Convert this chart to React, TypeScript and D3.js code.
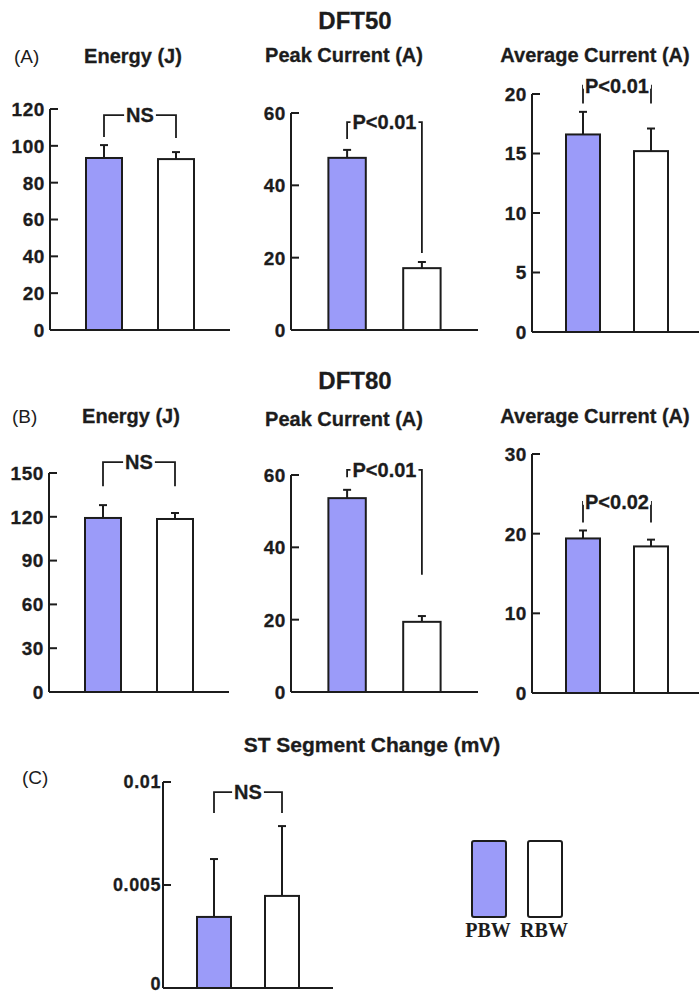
import React from "react";
import * as d3 from "d3";

// ---------- data ----------
const groups = ["PBW", "RBW"];
const groupColors = ["#9b9bf9", "#ffffff"];

// DFT50
const energy50 = [93.4, 92.8];
const energy50Err = [7.0, 3.8];
const peak50 = [47.6, 17.1];
const peak50Err = [2.2, 1.7];
const avg50 = [16.6, 15.2];
const avg50Err = [1.9, 1.9];

// DFT80
const energy80 = [119.2, 118.5];
const energy80Err = [8.8, 4.1];
const peak80 = [53.6, 19.4];
const peak80Err = [2.3, 1.6];
const avg80 = [19.4, 18.4];
const avg80Err = [1.0, 0.85];

// ST segment
const stChange = [0.00345, 0.00447];
const stChangeErr = [0.00281, 0.00339];

// y ticks
const ticksEnergy50 = [0, 20, 40, 60, 80, 100, 120];
const ticksPeak = [0, 20, 40, 60];
const ticksAvg50 = [0, 5, 10, 15, 20];
const ticksEnergy80 = [0, 30, 60, 90, 120, 150];
const ticksAvg80 = [0, 10, 20, 30];
const ticksST = [0, 0.005, 0.01];
const ticksSTLabels = ["0", "0.005", "0.01"];

// significance annotations: [label, bracket level, left leg end, right leg end]
const sigEnergy50: [string, number, number, number] = ["NS", 116.7, 104.8, 104.3];
const sigPeak50: [string, number, number, number] = ["P<0.01", 57.5, 52.8, 21.3];
const sigAvg50: [string, number, number, number] = ["P<0.01", 20.7, 19.2, 19.2];
const sigEnergy80: [string, number, number, number] = ["NS", 157.5, 141, 141];
const sigPeak80: [string, number, number, number] = ["P<0.01", 61.4, 59.4, 32.4];
const sigAvg80: [string, number, number, number] = ["P<0.02", 24.0, 21.4, 21.4];
const sigST: [string, number, number, number] = ["NS", 0.00951, 0.0085, 0.0085];

const INK = "#1c1c1c";
const SANS = "'Liberation Sans', Arial, Helvetica, sans-serif";
const SERIF = "'Liberation Serif', 'Times New Roman', serif";

// approximate Arial-bold advance widths (em) for masking bracket behind labels
const charW: Record<string, number> = { N: 0.722, S: 0.667, P: 0.667, "<": 0.584, ".": 0.278 };
const textWidth = (s: string, size: number) =>
  s.split("").reduce((a, c) => a + (charW[c] ?? 0.556), 0) * size;

type PanelProps = {
  x0: number;
  width: number;
  yBottom: number;
  yTop: number;
  ticks: number[];
  tickLabels?: string[];
  tickSize?: number;
  values: number[];
  errors: number[];
  sig: [string, number, number, number];
};

function Panel({ x0, width, yBottom, yTop, ticks, tickLabels, tickSize = 19, values, errors, sig }: PanelProps) {
  const maxT = ticks[ticks.length - 1];
  const y = d3.scaleLinear().domain([0, maxT]).range([yBottom, yTop]);
  const x = d3
    .scaleBand<string>()
    .domain(groups)
    .range([x0, x0 + width])
    .paddingInner(0.5)
    .paddingOuter(0.5);
  const bw = x.bandwidth();
  const cx = (g: string) => (x(g) as number) + bw / 2;
  const [label, level, leftEnd, rightEnd] = sig;
  const lx = cx(groups[0]);
  const rx = cx(groups[1]);
  const path = d3.path();
  path.moveTo(lx, y(leftEnd));
  path.lineTo(lx, y(level));
  path.lineTo(rx, y(level));
  path.lineTo(rx, y(rightEnd));
  const sigSize = 20;
  const mw = textWidth(label, sigSize) + 4;
  return (
    <g>
      {/* bars */}
      {groups.map((g, i) => (
        <g key={g}>
          <line
            x1={cx(g)}
            x2={cx(g)}
            y1={y(values[i])}
            y2={y(values[i] + errors[i])}
            stroke={INK}
            strokeWidth={2}
          />
          <line
            x1={cx(g) - 4}
            x2={cx(g) + 4}
            y1={y(values[i] + errors[i])}
            y2={y(values[i] + errors[i])}
            stroke={INK}
            strokeWidth={2}
          />
          <rect
            x={x(g)}
            y={y(values[i])}
            width={bw}
            height={y(0) - y(values[i])}
            fill={groupColors[i]}
            stroke={INK}
            strokeWidth={2}
          />
        </g>
      ))}
      {/* axes */}
      <line x1={x0} x2={x0} y1={y(0)} y2={y(maxT)} stroke={INK} strokeWidth={2} />
      <line x1={x0} x2={x0 + width} y1={y(0)} y2={y(0)} stroke={INK} strokeWidth={2} />
      {ticks.map((t, i) => (
        <g key={t}>
          <line x1={x0} x2={x0 + 8} y1={y(t)} y2={y(t)} stroke={INK} strokeWidth={2} />
          <text
            x={x0 - (tickLabels ? 2 : 5)}
            y={Math.min(y(t), 984)}
            dy="0.36em"
            textAnchor="end"
            fontFamily={SANS}
            fontWeight="bold"
            fontSize={tickSize}
            letterSpacing={0.6}
            fill={INK}
            stroke={INK}
            strokeWidth={0.3}
          >
            {tickLabels ? tickLabels[i] : d3.format("d")(t)}
          </text>
        </g>
      ))}
      {/* significance bracket */}
      <path d={path.toString()} fill="none" stroke={INK} strokeWidth={1.8} />
      <rect
        x={(lx + rx) / 2 - mw / 2}
        y={y(level) - 3}
        width={mw}
        height={6}
        fill="#fff"
      />
      <text
        x={(lx + rx) / 2}
        y={y(level)}
        dy="0.36em"
        textAnchor="middle"
        fontFamily={SANS}
        fontWeight="bold"
        fontSize={sigSize}
        fill={INK}
        stroke={INK}
        strokeWidth={0.3}
      >
        {label}
      </text>
    </g>
  );
}

function Title({ x, y, text, size = 20, anchor = "middle", bold = true }: any) {
  return (
    <text
      x={x}
      y={y}
      textAnchor={anchor}
      fontFamily={SANS}
      fontWeight={bold ? "bold" : "normal"}
      fontSize={size}
      fill={INK}
      stroke={bold ? INK : "none"}
      strokeWidth={0.3}
    >
      {text}
    </text>
  );
}

export default function App() {
  return (
    <svg
      width={699}
      height={993}
      style={{ position: "absolute", left: 0, top: 0, background: "#fff" }}
    >
      <rect width={699} height={993} fill="#fff" />
      {/* Section A */}
      <Title x={355} y={29} text="DFT50" size={24} />
      <Title x={14} y={63} text="(A)" size={19} anchor="start" bold={false} />
      <Title x={133} y={63} text="Energy (J)" />
      <Title x={344} y={62} text="Peak Current (A)" />
      <Title x={595} y={62} text="Average Current (A)" />
      <Panel x0={50} width={180} yBottom={330} yTop={109} ticks={ticksEnergy50} values={energy50} errors={energy50Err} sig={sigEnergy50} />
      <Panel x0={291} width={187} yBottom={330} yTop={113} ticks={ticksPeak} values={peak50} errors={peak50Err} sig={sigPeak50} />
      <Panel x0={532} width={170} yBottom={332} yTop={94} ticks={ticksAvg50} values={avg50} errors={avg50Err} sig={sigAvg50} />

      {/* Section B */}
      <Title x={355} y={389} text="DFT80" size={24} />
      <Title x={12} y={423} text="(B)" size={19} anchor="start" bold={false} />
      <Title x={131} y={423} text="Energy (J)" />
      <Title x={344} y={426} text="Peak Current (A)" />
      <Title x={595} y={423} text="Average Current (A)" />
      <Panel x0={49} width={180} yBottom={692} yTop={473} ticks={ticksEnergy80} values={energy80} errors={energy80Err} sig={sigEnergy80} />
      <Panel x0={291} width={187} yBottom={692} yTop={475} ticks={ticksPeak} values={peak80} errors={peak80Err} sig={sigPeak80} />
      <Panel x0={532} width={170} yBottom={693} yTop={454} ticks={ticksAvg80} values={avg80} errors={avg80Err} sig={sigAvg80} />

      {/* Section C */}
      <Title x={372} y={752} text="ST Segment Change (mV)" size={21} />
      <Title x={22} y={784} text="(C)" size={19} anchor="start" bold={false} />
      <Panel x0={163} width={170} yBottom={988} yTop={782} ticks={ticksST} tickLabels={ticksSTLabels} tickSize={18} values={stChange} errors={stChangeErr} sig={sigST} />

      {/* Legend */}
      {groups.map((g, i) => (
        <g key={g}>
          <rect
            x={472 + i * 56}
            y={841}
            width={34}
            height={76}
            rx={2}
            fill={groupColors[i]}
            stroke={INK}
            strokeWidth={2}
          />
          <text
            x={488 + i * 56}
            y={937}
            textAnchor="middle"
            fontFamily={SERIF}
            fontWeight="bold"
            fontSize={20}
            fill={INK}
          >
            {g}
          </text>
        </g>
      ))}
    </svg>
  );
}
